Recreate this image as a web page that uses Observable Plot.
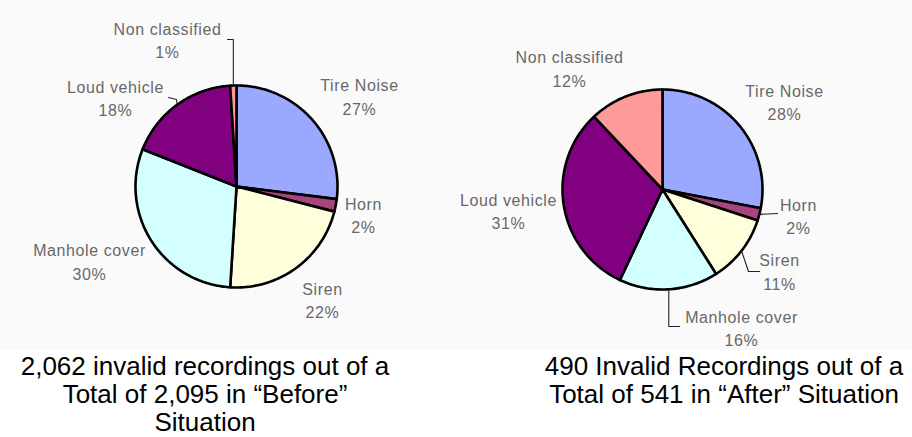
<!DOCTYPE html>
<html>
<head>
<meta charset="utf-8">
<script src="https://cdn.jsdelivr.net/npm/d3@7"></script>
<script src="https://cdn.jsdelivr.net/npm/@observablehq/plot@0.6"></script>
<style>
  html, body { margin: 0; padding: 0; background: #ffffff; }
  #wrap { position: relative; width: 912px; height: 437px; overflow: hidden; }
  #chart svg { display: block; background: #fafafa; }
  #chart svg g[aria-label="text"] text { letter-spacing: 0.6px; }
  .cap { position: absolute; top: 352px; font-family: "Liberation Sans", Arial, Helvetica, sans-serif;
         font-size: 26px; line-height: 28px; color: #000; text-align: center; white-space: nowrap; }
</style>
</head>
<body>
<div id="wrap">
  <div id="chart"></div>
  <div id="capBefore" class="cap" style="left:0px;width:410px;"></div>
  <div id="capAfter" class="cap" style="left:524px;width:400px;"></div>
</div>
<script>
// ---- data ----
const categories = ["Tire Noise", "Horn", "Siren", "Manhole cover", "Loud vehicle", "Non classified"];
const beforeValues = [27, 2, 22, 30, 18, 1];
const afterValues = [28, 2, 11, 16, 31, 12];
const sliceColors = ["#9aa9ff", "#a8457f", "#ffffdc", "#d4ffff", "#800080", "#ff9a9a"];
const captionBefore = ["2,062 invalid recordings out of a", "Total of 2,095 in \u201cBefore\u201d", "Situation"];
const captionAfter = ["490 Invalid Recordings out of a", "Total of 541 in \u201cAfter\u201d Situation"];

// ---- layout ----
const W = 912, H = 350;
const beforeLayout = {
  cx: 236, cy: 186, r: 101,
  labels: [[359, 95], [363, 213.5], [322, 298.5], [89, 260], [115, 96.5], [167, 38.5]],
  leaders: {"Non classified": [[null, 39], [227, 39]], "Loud vehicle": [[176, 99], [168, 97]]}
};
const afterLayout = {
  cx: 662, cy: 189, r: 100,
  labels: [[784, 100.5], [798, 214.5], [779, 270], [741, 326.5], [508, 209.5], [569, 67]],
  leaders: {"Horn": [[777, 213]], "Siren": [[748, 271], [759, 271]], "Manhole cover": [[null, 326], [679, 326]]}
};

const pieGen = d3.pie().sort(null).value(d => d.value).startAngle(0).endAngle(2 * Math.PI);

const polys = [], labels = [], leaders = [];
[["before", beforeValues, beforeLayout], ["after", afterValues, afterLayout]].forEach(([key, values, L]) => {
  const rows = categories.map((c, i) => ({cat: c, value: values[i]}));
  const arcs = pieGen(rows);
  const pt = a => [L.cx + L.r * Math.sin(a), L.cy - L.r * Math.cos(a)];
  arcs.forEach((a, i) => {
    const id = key + i;
    const n = Math.max(2, Math.ceil((a.endAngle - a.startAngle) / (Math.PI / 180)));
    polys.push({id, cat: a.data.cat, x: L.cx, y: L.cy});
    for (let k = 0; k <= n; k++) {
      const [x, y] = pt(a.startAngle + (a.endAngle - a.startAngle) * k / n);
      polys.push({id, cat: a.data.cat, x, y});
    }
    polys.push({id, cat: a.data.cat, x: L.cx, y: L.cy});
    labels.push({x: L.labels[i][0], y: L.labels[i][1], text: a.data.cat + "\n" + a.data.value + "%"});
    const ld = L.leaders[a.data.cat];
    if (ld) {
      let [px, py] = pt((a.startAngle + a.endAngle) / 2);
      leaders.push({id, x: px, y: py});
      ld.forEach(([x, y]) => {
        px = x == null ? px : x; py = y == null ? py : y;
        leaders.push({id, x: px, y: py});
      });
    }
  });
});

const chart = Plot.plot({
  width: W, height: H,
  marginTop: 0, marginRight: 0, marginBottom: 0, marginLeft: 0,
  x: {domain: [0, W], range: [0, W], axis: null},
  y: {domain: [0, H], range: [0, H], axis: null},
  color: {domain: categories, range: sliceColors},
  style: {fontFamily: "'Liberation Sans', Arial, Helvetica, sans-serif", background: "#fafafa"},
  marks: [
    Plot.line(polys, {x: "x", y: "y", z: "id", fill: "cat", stroke: "#000", strokeWidth: 2.6,
      strokeLinejoin: "round", curve: "linear"}),
    Plot.line(leaders, {x: "x", y: "y", z: "id", stroke: "#222", strokeWidth: 1.1, curve: "linear"}),
    Plot.text(labels, {x: "x", y: "y", text: "text", fontSize: 16, lineHeight: 1.45,
      fill: "#686868", textAnchor: "middle", lineAnchor: "middle"})
  ]
});
document.getElementById("chart").appendChild(chart);
document.getElementById("capBefore").innerHTML = captionBefore.join("<br>");
document.getElementById("capAfter").innerHTML = captionAfter.join("<br>");
</script>
</body>
</html>
